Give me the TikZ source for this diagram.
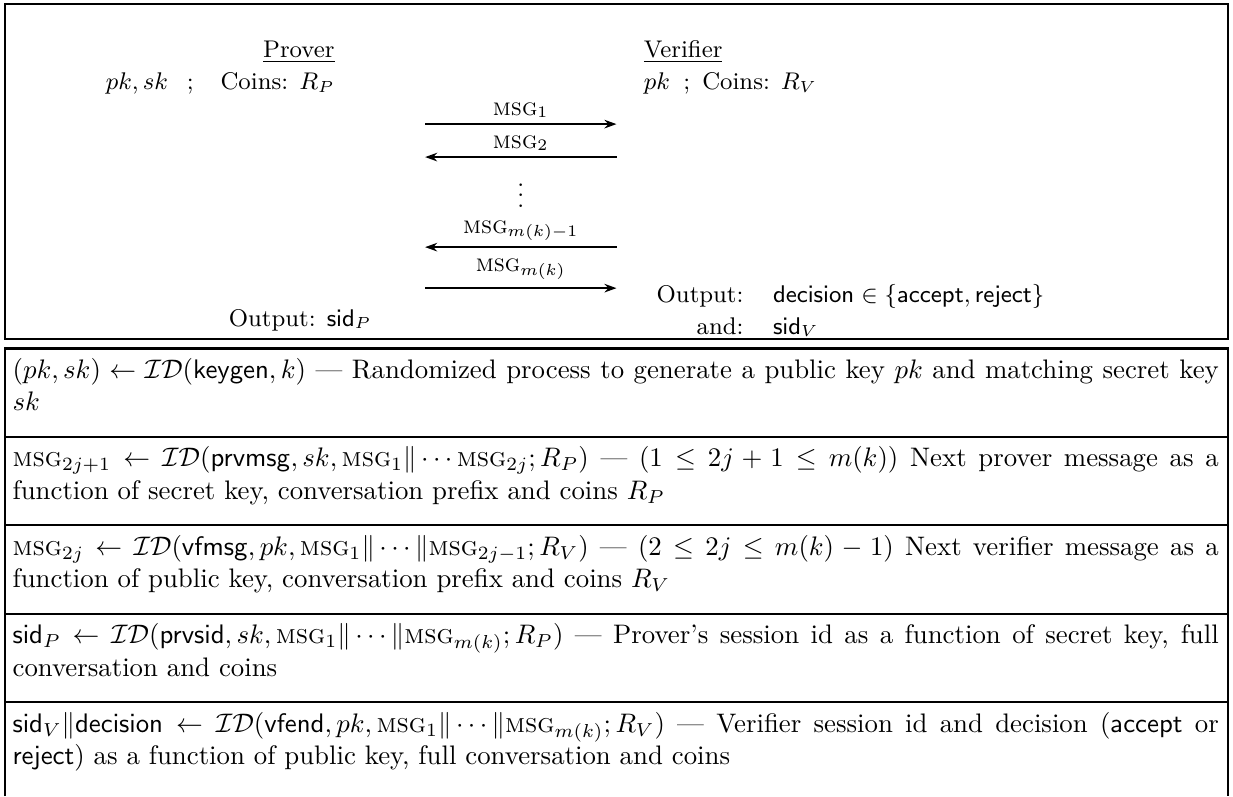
\documentclass[tikz,border=0pt]{standalone}
\usepackage{amsmath,amssymb}
\usepackage{tikz}
\usetikzlibrary{arrows.meta, positioning, calc}

\newcommand{\msgname}{\textsc{msg}}
\newcommand{\IDproc}{\mathcal{ID}}

\begin{document}
\begin{tikzpicture}[x=1pt, y=-1pt,
    frame/.style={draw, line width=0.8pt},
    party/.style={inner sep=0pt, font=\small},
    msgarrow/.style={line width=0.7pt, -{Stealth[length=4.5pt, width=3.2pt]}},
    msglabel/.style={above, inner sep=2pt, font=\small},
    rowtext/.style={anchor=north west, text width=450pt, align=justify, inner sep=0pt}]

  \useasboundingbox (0,0) rectangle (460,297);

  % protocol box
  \draw[frame] (2,1.5) rectangle (458.2,126.5);

  \node[party, anchor=base east] (prover) at (125,21.5) {\underline{Prover}};
  \node[party, anchor=base east] (pkeys) at (125,33.5) {$pk, sk$\hspace{7pt};\hspace{10pt}Coins: $R_P$};
  \node[party, anchor=base west] (verifier) at (240,21.5) {\underline{Verifier}};
  \node[party, anchor=base west] (vkeys) at (240,33.5) {$pk$\hspace{5pt};\hspace{4.5pt}Coins: $R_V$};

  % messages
  \coordinate (p1) at (158.6,46.3);  \coordinate (v1) at (230,46.3);
  \coordinate (p2) at (158.6,58.6);  \coordinate (v2) at (230,58.6);
  \coordinate (p3) at (158.6,92.2);  \coordinate (v3) at (230,92.2);
  \coordinate (p4) at (158.6,107.5); \coordinate (v4) at (230,107.5);

  \draw[msgarrow] (p1) -- node[msglabel] {$\msgname_1$} (v1);
  \draw[msgarrow] (v2) -- node[msglabel] {$\msgname_2$} (p2);
  \node[party] (dots) at (194.3,70) {$\vdots$};
  \draw[msgarrow] (v3) -- node[msglabel] {$\msgname_{m(k)-1}$} (p3);
  \draw[msgarrow] (p4) -- node[msglabel, inner sep=3pt] {$\msgname_{m(k)}$} (v4);

  % outputs
  \node[party] (outp) at (112,119.4) {Output: $\mathsf{sid}_P$};
  \node[party, anchor=west] (outv) at (244.8,116.5) {%
    \begin{tabular}{@{}r@{\hspace{11pt}}l@{}}
      Output: & $\mathsf{decision} \in \{\mathsf{accept}, \mathsf{reject}\}$ \\[1pt]
      and:    & $\mathsf{sid}_V$
    \end{tabular}};

  % procedures
  \draw[frame] (2,297) -- (2,130) -- (458.2,130) -- (458.2,297);
  \foreach \yy in {163,196,229,262}
    \draw[frame] (2,\yy) -- (458.2,\yy);

  \node[rowtext] (keygen) at (4.5,133.5) {$(pk, sk) \leftarrow \IDproc(\mathsf{keygen}, k)$ --- Randomized process to generate a public key $pk$ and matching secret key $sk$};
  \node[rowtext] (prvmsg) at (4.5,166.5) {$\msgname_{2j+1} \leftarrow \IDproc(\mathsf{prvmsg}, sk, \msgname_1\|\cdots\msgname_{2j}; R_P)$ --- $(1 \leq 2j+1 \leq m(k))$ Next prover message as a function of secret key, conversation prefix and coins $R_P$};
  \node[rowtext] (vfmsg) at (4.5,199.5) {$\msgname_{2j} \leftarrow \IDproc(\mathsf{vfmsg}, pk, \msgname_1\|\cdots\|\msgname_{2j-1}; R_V)$ --- $(2 \leq 2j \leq m(k)-1)$ Next verifier message as a function of public key, conversation prefix and coins $R_V$};
  \node[rowtext] (prvsid) at (4.5,232.5) {$\mathsf{sid}_P \leftarrow \IDproc(\mathsf{prvsid}, sk, \msgname_1\|\cdots\|\msgname_{m(k)}; R_P)$ --- Prover's session id as a function of secret key, full conversation and coins};
  \node[rowtext] (vfend) at (4.5,265.5) {$\mathsf{sid}_V\|\mathsf{decision} \leftarrow \IDproc(\mathsf{vfend}, pk, \msgname_1\|\cdots\|\msgname_{m(k)}; R_V)$ --- Verifier session id and decision ($\mathsf{accept}$ or $\mathsf{reject}$) as a function of public key, full conversation and coins};
\end{tikzpicture}
\end{document}
